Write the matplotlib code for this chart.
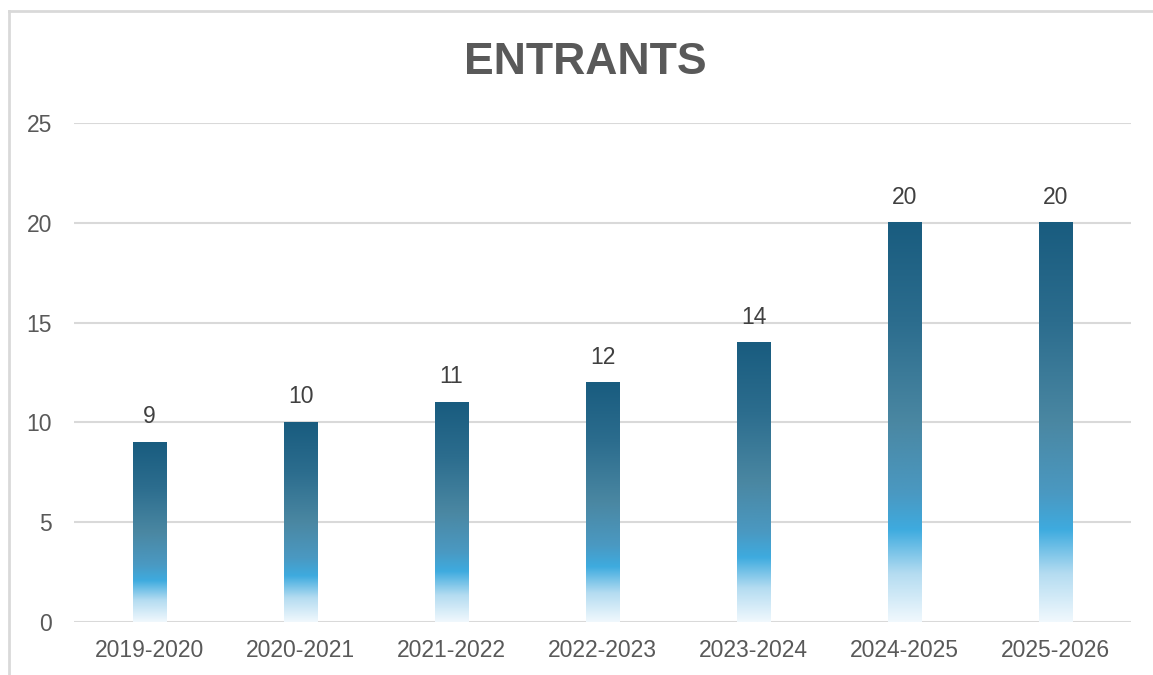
import numpy as np
import matplotlib.pyplot as plt
from matplotlib.colors import LinearSegmentedColormap
from matplotlib.lines import Line2D

years = ['2019-2020', '2020-2021', '2021-2022', '2022-2023', '2023-2024', '2024-2025', '2025-2026']
entrants = [9, 10, 11, 12, 14, 20, 20]

plt.rcParams['font.family'] = ['Liberation Sans', 'DejaVu Sans']

# gradient from bottom (0) to top (1) of each bar
grad = LinearSegmentedColormap.from_list('bar', [
    (0.0, '#f0f8fd'),
    (0.12, '#b4dcf1'),
    (0.23, '#3eabdf'),
    (0.32, '#4a99c2'),
    (0.5, '#4a87a2'),
    (0.75, '#2c6d8e'),
    (1.0, '#195c7f'),
])

fig = plt.figure(figsize=(11.53, 6.75), dpi=100)
ax = fig.add_axes([74/1153, 1-622/675, (1131-74)/1153, (622-123)/675])

w = 0.225
for i, v in enumerate(entrants):
    ax.imshow(np.linspace(0, 1, 256).reshape(-1, 1), cmap=grad, origin='lower',
              extent=[i-w/2, i+w/2, 0, v], aspect='auto', zorder=3, interpolation='bilinear')
    ax.text(i, v+0.7, str(v), ha='center', va='bottom', fontsize=16.5, color='#404040')

ax.set_xlim(-0.5, len(years)-0.5)
ax.set_ylim(0, 25)
ax.set_yticks(range(0, 26, 5))
ax.set_xticks(range(len(years)))
ax.set_xticklabels(years)
ax.tick_params(length=0, labelsize=16.5, labelcolor='#595959')
ax.tick_params(axis='y', pad=16)
ax.tick_params(axis='x', pad=12)
for s in ax.spines.values():
    s.set_visible(False)
ax.grid(axis='y', color='#d9d9d9', lw=1.5, zorder=0)
ax.set_axisbelow(True)

fig.text(585/1153, 1-62/675, 'ENTRANTS', ha='center', va='center',
         fontsize=32, fontweight='bold', color='#595959')

fig.add_artist(Line2D([8.5/1153, 8.5/1153], [0, 1-11/675], color='#d9d9d9', lw=2))
fig.add_artist(Line2D([8.5/1153, 1], [1-11/675, 1-11/675], color='#d9d9d9', lw=2))

fig.savefig('out.png', dpi=100)
